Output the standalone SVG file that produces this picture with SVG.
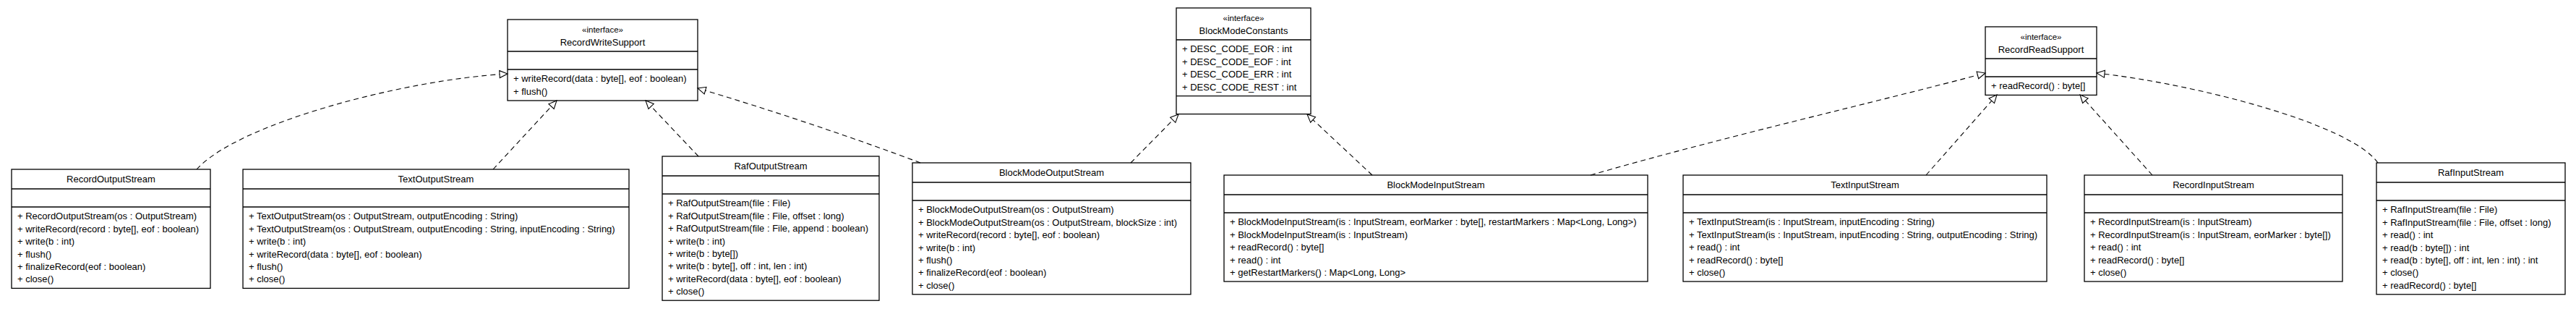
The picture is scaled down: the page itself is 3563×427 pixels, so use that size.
<svg xmlns="http://www.w3.org/2000/svg" width="3563" height="427" viewBox="0 0 3563 427">
<style>
.box{fill:#fff;stroke:#000;stroke-width:1.3}
.sep{stroke:#000;stroke-width:1.3}
text{font-family:"Liberation Sans",Arial,Helvetica,sans-serif;font-size:13px;fill:#000}
.st{font-size:11.5px}
.c{text-anchor:middle}
.dep{fill:none;stroke:#000;stroke-width:1.1;stroke-dasharray:7,5}
</style>
<defs>
<marker id="real" markerUnits="userSpaceOnUse" markerWidth="14" markerHeight="12" refX="12" refY="5" orient="auto" overflow="visible">
<path d="M1,0 L12,5 L1,10 Z" fill="#fff" stroke="#000" stroke-width="1.1"/>
</marker>
</defs>
<rect width="3563" height="427" fill="#fff"/>

<g id="RecordWriteSupport">
<rect class="box" x="702" y="27" width="263" height="112"/>
<line class="sep" x1="702" y1="71" x2="965" y2="71"/>
<line class="sep" x1="702" y1="96" x2="965" y2="96"/>
<text class="st c" x="833.5" y="45">«interface»</text>
<text class="c" x="833.5" y="63">RecordWriteSupport</text>
<text x="710" y="113.3">+ writeRecord(data : byte[], eof : boolean)</text>
<text x="710" y="130.7">+ flush()</text>
</g>

<g id="BlockModeConstants">
<rect class="box" x="1627" y="11" width="186" height="146.6"/>
<line class="sep" x1="1627" y1="55" x2="1813" y2="55"/>
<line class="sep" x1="1627" y1="132.6" x2="1813" y2="132.6"/>
<text class="st c" x="1720" y="29">«interface»</text>
<text class="c" x="1720" y="47">BlockModeConstants</text>
<text x="1635" y="72.3">+ DESC_CODE_EOR : int</text>
<text x="1635" y="89.7">+ DESC_CODE_EOF : int</text>
<text x="1635" y="107.1">+ DESC_CODE_ERR : int</text>
<text x="1635" y="124.5">+ DESC_CODE_REST : int</text>
</g>

<g id="RecordReadSupport">
<rect class="box" x="2746" y="37" width="154" height="94.4"/>
<line class="sep" x1="2746" y1="81" x2="2900" y2="81"/>
<line class="sep" x1="2746" y1="106" x2="2900" y2="106"/>
<text class="st c" x="2823" y="55">«interface»</text>
<text class="c" x="2823" y="73">RecordReadSupport</text>
<text x="2754" y="123.3">+ readRecord() : byte[]</text>
</g>

<g id="RecordOutputStream">
<rect class="box" x="16" y="234" width="275" height="164.4"/>
<line class="sep" x1="16" y1="261" x2="291" y2="261"/>
<line class="sep" x1="16" y1="286" x2="291" y2="286"/>
<text class="c" x="153.5" y="252">RecordOutputStream</text>
<text x="24" y="303.3">+ RecordOutputStream(os : OutputStream)</text>
<text x="24" y="320.7">+ writeRecord(record : byte[], eof : boolean)</text>
<text x="24" y="338.1">+ write(b : int)</text>
<text x="24" y="355.5">+ flush()</text>
<text x="24" y="372.9">+ finalizeRecord(eof : boolean)</text>
<text x="24" y="390.3">+ close()</text>
</g>

<g id="TextOutputStream">
<rect class="box" x="336" y="234" width="534" height="164.4"/>
<line class="sep" x1="336" y1="261" x2="870" y2="261"/>
<line class="sep" x1="336" y1="286" x2="870" y2="286"/>
<text class="c" x="603" y="252">TextOutputStream</text>
<text x="344" y="303.3">+ TextOutputStream(os : OutputStream, outputEncoding : String)</text>
<text x="344" y="320.7">+ TextOutputStream(os : OutputStream, outputEncoding : String, inputEncoding : String)</text>
<text x="344" y="338.1">+ write(b : int)</text>
<text x="344" y="355.5">+ writeRecord(data : byte[], eof : boolean)</text>
<text x="344" y="372.9">+ flush()</text>
<text x="344" y="390.3">+ close()</text>
</g>

<g id="RafOutputStream">
<rect class="box" x="916" y="216" width="300" height="199.2"/>
<line class="sep" x1="916" y1="243" x2="1216" y2="243"/>
<line class="sep" x1="916" y1="268" x2="1216" y2="268"/>
<text class="c" x="1066" y="234">RafOutputStream</text>
<text x="924" y="285.3">+ RafOutputStream(file : File)</text>
<text x="924" y="302.7">+ RafOutputStream(file : File, offset : long)</text>
<text x="924" y="320.1">+ RafOutputStream(file : File, append : boolean)</text>
<text x="924" y="337.5">+ write(b : int)</text>
<text x="924" y="354.9">+ write(b : byte[])</text>
<text x="924" y="372.3">+ write(b : byte[], off : int, len : int)</text>
<text x="924" y="389.7">+ writeRecord(data : byte[], eof : boolean)</text>
<text x="924" y="407.1">+ close()</text>
</g>

<g id="BlockModeOutputStream">
<rect class="box" x="1262" y="225" width="385" height="181.8"/>
<line class="sep" x1="1262" y1="252" x2="1647" y2="252"/>
<line class="sep" x1="1262" y1="277" x2="1647" y2="277"/>
<text class="c" x="1454.5" y="243">BlockModeOutputStream</text>
<text x="1270" y="294.3">+ BlockModeOutputStream(os : OutputStream)</text>
<text x="1270" y="311.7">+ BlockModeOutputStream(os : OutputStream, blockSize : int)</text>
<text x="1270" y="329.1">+ writeRecord(record : byte[], eof : boolean)</text>
<text x="1270" y="346.5">+ write(b : int)</text>
<text x="1270" y="363.9">+ flush()</text>
<text x="1270" y="381.3">+ finalizeRecord(eof : boolean)</text>
<text x="1270" y="398.7">+ close()</text>
</g>

<g id="BlockModeInputStream">
<rect class="box" x="1693" y="242" width="586" height="147"/>
<line class="sep" x1="1693" y1="269" x2="2279" y2="269"/>
<line class="sep" x1="1693" y1="294" x2="2279" y2="294"/>
<text class="c" x="1986" y="260">BlockModeInputStream</text>
<text x="1701" y="311.3">+ BlockModeInputStream(is : InputStream, eorMarker : byte[], restartMarkers : Map&lt;Long, Long&gt;)</text>
<text x="1701" y="328.7">+ BlockModeInputStream(is : InputStream)</text>
<text x="1701" y="346.1">+ readRecord() : byte[]</text>
<text x="1701" y="363.5">+ read() : int</text>
<text x="1701" y="380.9">+ getRestartMarkers() : Map&lt;Long, Long&gt;</text>
</g>

<g id="TextInputStream">
<rect class="box" x="2328" y="242" width="503" height="147"/>
<line class="sep" x1="2328" y1="269" x2="2831" y2="269"/>
<line class="sep" x1="2328" y1="294" x2="2831" y2="294"/>
<text class="c" x="2579.5" y="260">TextInputStream</text>
<text x="2336" y="311.3">+ TextInputStream(is : InputStream, inputEncoding : String)</text>
<text x="2336" y="328.7">+ TextInputStream(is : InputStream, inputEncoding : String, outputEncoding : String)</text>
<text x="2336" y="346.1">+ read() : int</text>
<text x="2336" y="363.5">+ readRecord() : byte[]</text>
<text x="2336" y="380.9">+ close()</text>
</g>

<g id="RecordInputStream">
<rect class="box" x="2883" y="242" width="357" height="147"/>
<line class="sep" x1="2883" y1="269" x2="3240" y2="269"/>
<line class="sep" x1="2883" y1="294" x2="3240" y2="294"/>
<text class="c" x="3061.5" y="260">RecordInputStream</text>
<text x="2891" y="311.3">+ RecordInputStream(is : InputStream)</text>
<text x="2891" y="328.7">+ RecordInputStream(is : InputStream, eorMarker : byte[])</text>
<text x="2891" y="346.1">+ read() : int</text>
<text x="2891" y="363.5">+ readRecord() : byte[]</text>
<text x="2891" y="380.9">+ close()</text>
</g>

<g id="RafInputStream">
<rect class="box" x="3287" y="225" width="261" height="181.8"/>
<line class="sep" x1="3287" y1="252" x2="3548" y2="252"/>
<line class="sep" x1="3287" y1="277" x2="3548" y2="277"/>
<text class="c" x="3417.5" y="243">RafInputStream</text>
<text x="3295" y="294.3">+ RafInputStream(file : File)</text>
<text x="3295" y="311.7">+ RafInputStream(file : File, offset : long)</text>
<text x="3295" y="329.1">+ read() : int</text>
<text x="3295" y="346.5">+ read(b : byte[]) : int</text>
<text x="3295" y="363.9">+ read(b : byte[], off : int, len : int) : int</text>
<text x="3295" y="381.3">+ close()</text>
<text x="3295" y="398.7">+ readRecord() : byte[]</text>
</g>

<g id="connectors">
<path class="dep" marker-end="url(#real)" d="M272,234 C330,170 560,110 702,102"/>
<path class="dep" marker-end="url(#real)" d="M682,234 L770,139"/>
<path class="dep" marker-end="url(#real)" d="M966,216 L893,139"/>
<path class="dep" marker-end="url(#real)" d="M1273,225 C1180,190 1060,150 965,122"/>
<path class="dep" marker-end="url(#real)" d="M1564,225 L1630,158"/>
<path class="dep" marker-end="url(#real)" d="M1898,242 L1808,158"/>
<path class="dep" marker-end="url(#real)" d="M2200,242 C2380,190 2600,140 2746,101"/>
<path class="dep" marker-end="url(#real)" d="M2664,242 L2762,131"/>
<path class="dep" marker-end="url(#real)" d="M2977,242 L2877,131"/>
<path class="dep" marker-end="url(#real)" d="M3289,225 C3250,170 3030,115 2900,101"/>
</g>
</svg>
